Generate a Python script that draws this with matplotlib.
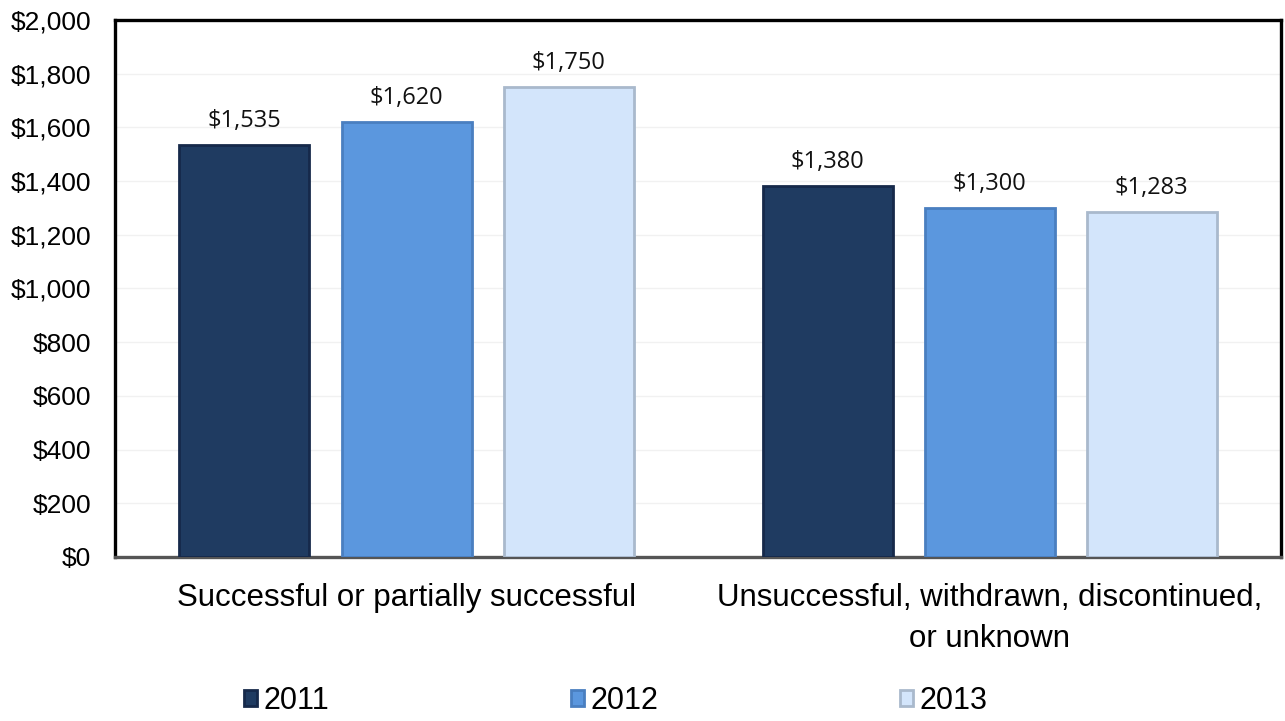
import matplotlib.pyplot as plt
import numpy as np

# ── data ────────────────────────────────────────────────────────────────────
categories = ["Successful or partially successful",
              "Unsuccessful, withdrawn, discontinued,\nor unknown"]
years = ["2011", "2012", "2013"]
values_2011 = [1535, 1380]
values_2012 = [1620, 1300]
values_2013 = [1750, 1283]
yticks = list(range(0, 2001, 200))

FILL = ["#1f3b61", "#5b97de", "#d3e5fb"]
EDGE = ["#16294a", "#4a7fc0", "#a9b9cc"]

plt.rcParams["font.family"] = ["Liberation Sans", "DejaVu Sans"]

fig = plt.figure(figsize=(12.85, 7.21), dpi=100)
ax = fig.add_axes([0.0895, 0.2275, 0.9075, 0.7448])

x = np.arange(len(categories))
width = 0.223
step = 0.278
series = [values_2011, values_2012, values_2013]
for i, (vals, year) in enumerate(zip(series, years)):
    pos = x + (i - 1) * step
    bars = ax.bar(pos, vals, width, color=FILL[i], edgecolor=EDGE[i],
                  linewidth=2.0, label=year, zorder=3)
    for b, v in zip(bars, vals):
        ax.text(b.get_x() + b.get_width() / 2, v + 45, f"${v:,}",
                ha="center", va="bottom", fontsize=17,
                family=["Open Sans", "DejaVu Sans"], color="#111111")

ax.set_xlim(-0.5, 1.5)
ax.set_ylim(0, 2000)
ax.set_yticks(yticks)
ax.set_yticklabels([f"${v:,}" for v in yticks], fontsize=19)
ax.set_xticks(x)
ax.set_xticklabels(categories, fontsize=22.5, linespacing=1.45)
ax.tick_params(axis="both", length=0)
ax.tick_params(axis="y", pad=17)
ax.tick_params(axis="x", pad=19)
ax.grid(axis="y", color="#f1f1f1", linewidth=1.0, zorder=0)

for side in ("left", "top", "right"):
    ax.spines[side].set_linewidth(2.4)
    ax.spines[side].set_color("black")
ax.spines["bottom"].set_linewidth(2.4)
ax.spines["bottom"].set_color("#555555")

leg = fig.legend(loc="center", bbox_to_anchor=(0.479, 0.028), ncol=3,
                 frameon=False, handlelength=0.45, handleheight=0.45,
                 handletextpad=0.2, columnspacing=7.9,
                 prop={"family": ["Liberation Sans Narrow", "Liberation Sans"],
                       "size": 22})

fig.savefig("out.png", dpi=100)
